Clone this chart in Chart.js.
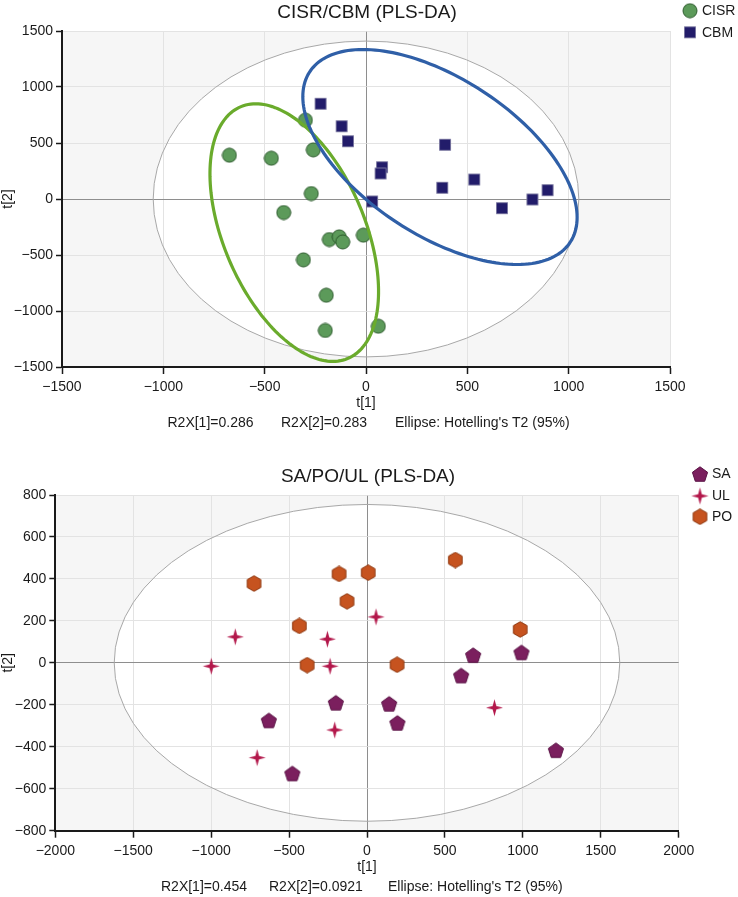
<!DOCTYPE html>
<html lang="en">
<head>
<meta charset="UTF-8" />
<title>PLS-DA score plots</title>
<script src="https://cdn.jsdelivr.net/npm/chart.js"></script>
<style>
  body { margin: 0; background: #fff; }
  .wrap { position: relative; width: 738px; height: 897px; }
  canvas { position: absolute; left: 0; }
  #topChart { top: 0; }
  #bottomChart { top: 464px; }
</style>
</head>
<body>
<div class="wrap">
  <canvas id="topChart" width="738" height="448"></canvas>
  <canvas id="bottomChart" width="738" height="433"></canvas>
</div>
<script>
const FONT = "'Liberation Sans', Arial, sans-serif";

// ---- top plot: CISR / CBM ----
const topTitle = 'CISR/CBM (PLS-DA)';
const cisrX = [-674, -467, -299, -260, -270, -406, -181, -132, -115, -13, -309, -196, -201, 61];
const cisrY = [391, 364, 704, 439, 49, -121, -362, -338, -383, -323, -543, -859, -1174, -1136];
const cbmX = [-224, -120, -89, 390, 79, 72, 534, 376, 896, 30, 821, 671];
const cbmY = [850, 650, 516, 484, 284, 228, 174, 100, 79, -22, -4, -82];
const topTicksX = [-1500, -1000, -500, 0, 500, 1000, 1500];
const topTicksY = [-1500, -1000, -500, 0, 500, 1000, 1500];
const topFooter = ['R2X[1]=0.286', 'R2X[2]=0.283', "Ellipse: Hotelling's T2 (95%)"];
const topHotelling = [1050, 1410];                    // semi axes t[1], t[2]
const cisrEllipse = [-354, -300, -190, 1150, 370, 0]; // centre x,y, axis A x,y, axis B x,y
const cbmEllipse = [365, 375, -380, 960, 560, 0];

// ---- bottom plot: SA / PO / UL ----
const bottomTitle = 'SA/PO/UL (PLS-DA)';
const saX = [-200, -630, -479, 681, 991, 604, 142, 195, 1212];
const saY = [-190, -274, -527, 37, 50, -60, -195, -286, -416];
const ulX = [-845, -999, -254, -237, -207, -705, 58, 818];
const ulY = [124, -16, 113, -16, -320, -452, 219, -214];
const poX = [-725, -179, -128, 8, 567, -434, -384, 983, 193];
const poY = [378, 424, 293, 430, 490, 176, -11, 159, -9];
const bottomTicksX = [-2000, -1500, -1000, -500, 0, 500, 1000, 1500, 2000];
const bottomTicksY = [-800, -600, -400, -200, 0, 200, 400, 600, 800];
const bottomFooter = ['R2X[1]=0.454', 'R2X[2]=0.0921', "Ellipse: Hotelling's T2 (95%)"];
const bottomHotelling = [1622, 755];

function toPoints(xs, ys) {
  return xs.map((x, i) => ({ x: x, y: ys[i] }));
}

// marker images for pointStyle
function marker(size, path, fill, stroke) {
  const c = document.createElement('canvas');
  c.width = size; c.height = size;
  const g = c.getContext('2d');
  g.beginPath();
  path(g, size / 2, size / 2);
  g.closePath();
  g.fillStyle = fill;
  g.fill();
  if (stroke) { g.strokeStyle = stroke; g.lineWidth = 1; g.stroke(); }
  return c;
}
function polygon(g, cx, cy, n, r, rot) {
  for (let i = 0; i < n; i++) {
    const a = rot + i * 2 * Math.PI / n;
    g.lineTo(cx + r * Math.cos(a), cy + r * Math.sin(a));
  }
}
const circleImg = marker(16, (g, cx, cy) => g.arc(cx, cy, 7, 0, Math.PI * 2), '#5c9a5a', '#2c5a2c');
const squareImg = marker(14, (g, cx, cy) => g.rect(1.5, 1.5, 11, 11), '#221c6a', '#77749e');
const pentaImg = marker(18, (g, cx, cy) => polygon(g, cx, cy + 0.8, 5, 8, -Math.PI / 2), '#7b1f5e', '#5a1345');
const hexImg = marker(17, (g, cx, cy) => polygon(g, cx, cy, 6, 7.8, -Math.PI / 2), '#c6531f', '#8e3810');
const starImg = marker(19, (g, cx, cy) => {
  for (let i = 0; i < 8; i++) {
    const a = -Math.PI / 2 + i * Math.PI / 4;
    const r = i % 2 === 0 ? 8.5 : 2.6;
    g.lineTo(cx + r * Math.cos(a), cy + r * Math.sin(a));
  }
}, '#b3184b', null);

function fmt(v) {
  return String(v).replace('-', '\u2212');
}

function decor(d) {
  return {
    id: 'decor',
    beforeDraw(chart) {
      const { ctx, chartArea: a, scales: { x, y } } = chart;
      ctx.save();
      ctx.fillStyle = '#f6f6f6';
      ctx.fillRect(a.left, a.top, a.right - a.left, a.bottom - a.top);
      const cx = x.getPixelForValue(0), cy = y.getPixelForValue(0);
      ctx.beginPath();
      ctx.ellipse(cx, cy, Math.abs(x.getPixelForValue(d.hotelling[0]) - cx),
        Math.abs(y.getPixelForValue(d.hotelling[1]) - cy), 0, 0, Math.PI * 2);
      ctx.fillStyle = '#ffffff';
      ctx.fill();
      ctx.restore();
    },
    beforeDatasetsDraw(chart) {
      const { ctx, scales: { x, y } } = chart;
      const cx = x.getPixelForValue(0), cy = y.getPixelForValue(0);
      ctx.save();
      ctx.beginPath();
      ctx.ellipse(cx, cy, Math.abs(x.getPixelForValue(d.hotelling[0]) - cx),
        Math.abs(y.getPixelForValue(d.hotelling[1]) - cy), 0, 0, Math.PI * 2);
      ctx.strokeStyle = '#a8a8a8';
      ctx.lineWidth = 1;
      ctx.stroke();
      ctx.restore();
    },
    afterDatasetsDraw(chart) {
      const { ctx, scales: { x, y } } = chart;
      ctx.save();
      (d.groups || []).forEach(grp => {
        const e = grp.ellipse;
        ctx.beginPath();
        for (let i = 0; i <= 180; i++) {
          const t = i * Math.PI / 90;
          const vx = e[0] + e[2] * Math.cos(t) + e[4] * Math.sin(t);
          const vy = e[1] + e[3] * Math.cos(t) + e[5] * Math.sin(t);
          ctx.lineTo(x.getPixelForValue(vx), y.getPixelForValue(vy));
        }
        ctx.closePath();
        ctx.strokeStyle = grp.color;
        ctx.lineWidth = 3.2;
        ctx.stroke();
      });
      ctx.restore();
    },
    afterDraw(chart) {
      const { ctx, chartArea: a } = chart;
      ctx.save();
      ctx.fillStyle = '#1a1a1a';
      ctx.textBaseline = 'middle';
      ctx.font = '19px ' + FONT;
      ctx.textAlign = 'center';
      ctx.fillText(d.title, (a.left + a.right) / 2 + 1, 12.5);
      ctx.font = '14px ' + FONT;
      ctx.textAlign = 'left';
      d.footer.forEach((s, i) => ctx.fillText(s, d.footerX[i], d.footerY));
      d.legend.forEach((it, i) => {
        ctx.drawImage(it.img, d.legendX - it.img.width / 2, d.legendY[i] - it.img.height / 2);
        ctx.fillText(it.label, d.legendX + 12, d.legendY[i] + 0.5);
      });
      ctx.restore();
    }
  };
}

function axis(ticks, pos, size, tickLen, pad, titleText) {
  return {
    type: 'linear',
    position: pos,
    min: ticks[0],
    max: ticks[ticks.length - 1],
    afterBuildTicks: s => { s.ticks = ticks.map(v => ({ value: v })); },
    afterFit: s => { if (pos === 'left') s.width = size; else s.height = size; },
    grid: {
      color: c => (c.tick && c.tick.value === 0 ? '#8e8e8e' : '#e3e3e3'),
      lineWidth: 1,
      drawTicks: true,
      tickLength: tickLen,
      tickColor: '#1a1a1a',
      tickWidth: 1.5
    },
    border: { display: true, color: '#1a1a1a', width: 2 },
    ticks: {
      color: '#1a1a1a',
      font: { family: FONT, size: 14 },
      padding: pad,
      maxRotation: 0,
      autoSkip: false,
      callback: v => fmt(v)
    },
    title: {
      display: true,
      text: titleText,
      color: '#1a1a1a',
      font: { family: FONT, size: 14 },
      padding: 0
    }
  };
}

function scatter(id, d) {
  return new Chart(document.getElementById(id), {
    type: 'scatter',
    data: { datasets: d.datasets },
    options: {
      responsive: false,
      animation: false,
      events: [],
      layout: { padding: { top: 31, left: 0, right: d.padRight, bottom: d.padBottom } },
      plugins: { legend: { display: false }, tooltip: { enabled: false } },
      scales: {
        x: axis(d.ticksX, 'bottom', 44.4, 7, 5, 't[1]'),
        y: axis(d.ticksY, 'left', d.yWidth, 6, 3, 't[2]')
      }
    },
    plugins: [decor(d)]
  });
}

scatter('topChart', {
  ticksX: topTicksX,
  ticksY: topTicksY,
  yWidth: 62,
  padRight: 68,
  padBottom: 36.6,
  hotelling: topHotelling,
  datasets: [
    { label: 'CISR', data: toPoints(cisrX, cisrY), pointStyle: circleImg },
    { label: 'CBM', data: toPoints(cbmX, cbmY), pointStyle: squareImg }
  ],
  groups: [
    { ellipse: cisrEllipse, color: '#6aab2c' },
    { ellipse: cbmEllipse, color: '#2f5fa7' }
  ],
  title: topTitle,
  footer: topFooter,
  footerX: [167.5, 281, 395],
  footerY: 423,
  legend: [{ img: circleImg, label: 'CISR' }, { img: squareImg, label: 'CBM' }],
  legendX: 690,
  legendY: [10.7, 32.3]
});

scatter('bottomChart', {
  ticksX: bottomTicksX,
  ticksY: bottomTicksY,
  yWidth: 55.3,
  padRight: 59.3,
  padBottom: 21.9,
  hotelling: bottomHotelling,
  datasets: [
    { label: 'SA', data: toPoints(saX, saY), pointStyle: pentaImg },
    { label: 'UL', data: toPoints(ulX, ulY), pointStyle: starImg },
    { label: 'PO', data: toPoints(poX, poY), pointStyle: hexImg }
  ],
  groups: [],
  title: bottomTitle,
  footer: bottomFooter,
  footerX: [161, 269, 388],
  footerY: 423.5,
  legend: [{ img: pentaImg, label: 'SA' }, { img: starImg, label: 'UL' }, { img: hexImg, label: 'PO' }],
  legendX: 700,
  legendY: [10, 32, 52.7]
});
</script>
</body>
</html>
